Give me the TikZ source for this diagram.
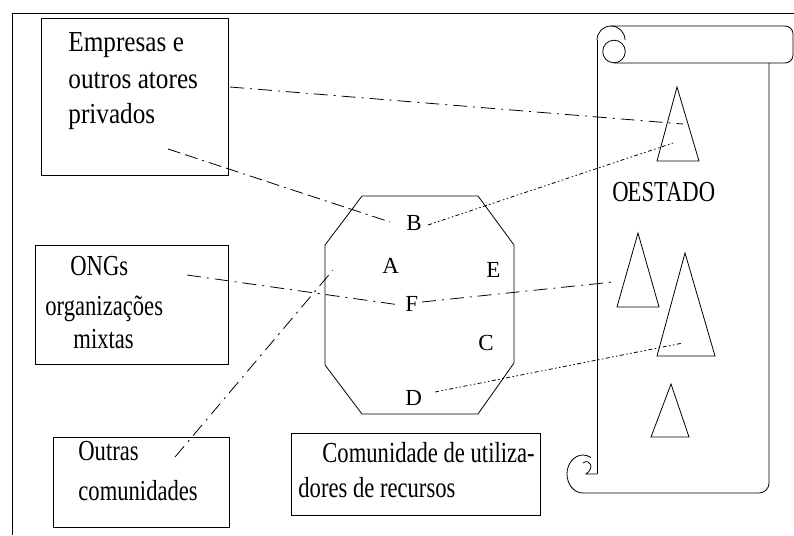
\documentclass[tikz,border=0pt]{standalone}
\usepackage{fontspec}
\setmainfont{Liberation Serif}
\newfontfamily\condserif[FakeStretch=0.78]{Liberation Serif}
\newfontfamily\wideserif[FakeStretch=0.87]{Liberation Serif}
\begin{document}
\begin{tikzpicture}[x=1pt,y=-1pt,line width=0.8pt,
  lbl/.style={anchor=base west,inner sep=0pt,font=\condserif\fontsize{29}{29}\selectfont},
  lblw/.style={anchor=base west,inner sep=0pt,font=\wideserif\fontsize{29}{29}\selectfont},
  let/.style={anchor=base west,inner sep=0pt,font=\fontsize{23}{23}\selectfont},
  box/.style={draw,line width=1pt},
  dashdot/.style={line width=0.8pt,dash pattern=on 14pt off 6pt on 2pt off 6pt},
  dashlong/.style={line width=0.8pt,dash pattern=on 13pt off 5pt on 13pt off 5pt on 2pt off 5pt},
  dashdotdot/.style={line width=0.8pt,dash pattern=on 4pt off 2.5pt on 1.5pt off 2.5pt on 1.5pt off 2.5pt}]
\useasboundingbox (0,0) rectangle (794,535);

% frame
\draw[line width=1pt] (12,535) -- (12,14) -- (794,14);

% boxes
\node[box,minimum width=187pt,minimum height=156pt,inner sep=0pt] (emp) at (134.5,97) {};
\node[box,minimum width=193pt,minimum height=119pt,inner sep=0pt] (ong) at (131.5,304.5) {};
\node[box,minimum width=176pt,minimum height=90pt,inner sep=0pt] (out) at (141,482) {};
\node[box,minimum width=249pt,minimum height=82pt,inner sep=0pt] (com) at (415.5,474) {};

% box texts
\node[lblw] (t1) at (68,52) {Empresas e};
\node[lblw] (t2) at (68,88) {outros atores};
\node[lblw] (t3) at (68,123) {privados};
\node[lbl] (t4) at (70,275) {ONGs};
\node[lbl] (t5) at (45,315) {organizações};
\node[lbl] (t6) at (73,348) {mixtas};
\node[lbl] (t7) at (78,460) {Outras};
\node[lbl] (t8) at (78,500) {comunidades};
\node[lbl] (t9) at (322,462) {Comunidade de utiliza-};
\node[lbl] (t10) at (298,497) {dores de recursos};

% octagon
\draw (362,196) -- (478,196) -- (514,245) -- (514,363) -- (478,414)
  -- (362,414) -- (325,365) -- (325,245) -- cycle;
\node[let] (A) at (382,273) {A};
\node[let] (B) at (406,230) {B};
\node[let] (E) at (486,277) {E};
\node[let] (F) at (405,311) {F};
\node[let] (C) at (478,350) {C};
\node[let] (D) at (405,405) {D};

% scroll
\draw (597,40) arc[start angle=180,end angle=360,radius=14];
\draw (614,51.5) circle[radius=11.3];
\draw[rounded corners=8pt] (611,26) -- (793,26) -- (793,63) -- (614,63);
\draw (597,40) -- (597,474);
\draw[rounded corners=10pt] (769,63) -- (769,493) -- (583,493);
\draw (583,493) arc[start angle=90,end angle=300,x radius=16,y radius=19];
\draw (583,463) .. controls (590,458) and (595,468) .. (586,474) -- (597,474);
\node[lbl] (st) at (612,201) {O\hspace{-1pt}ESTADO};

% triangles
\draw (677,87) -- (699,161) -- (657,161) -- cycle;
\draw (638,233) -- (659,307) -- (617,307) -- cycle;
\draw (685,253) -- (715,356) -- (657,356) -- cycle;
\draw (671,384) -- (689,437) -- (651,437) -- cycle;

% connector ends
\coordinate (p1a) at (230,87);   \coordinate (p1b) at (683,124);
\coordinate (p2a) at (168,149);  \coordinate (p2b) at (390,222);
\coordinate (p3a) at (428,225);  \coordinate (p3b) at (673,143);
\coordinate (p4a) at (187,275);  \coordinate (p4b) at (400,305);
\coordinate (p5a) at (422,302);  \coordinate (p5b) at (613,282);
\coordinate (p6a) at (175,457);  \coordinate (p6b) at (333,270);
\coordinate (p7a) at (435,392);  \coordinate (p7b) at (683,343);

\draw[dashdot] (p1a) -- (p1b);
\draw[dashlong] (p2a) -- (p2b);
\draw[dashdotdot] (p3a) -- (p3b);
\draw[dashdot] (p4a) -- (p4b);
\draw[dashdot] (p5a) -- (p5b);
\draw[dashdot] (p6a) -- (p6b);
\draw[dashdotdot] (p7a) -- (p7b);
\end{tikzpicture}
\end{document}
